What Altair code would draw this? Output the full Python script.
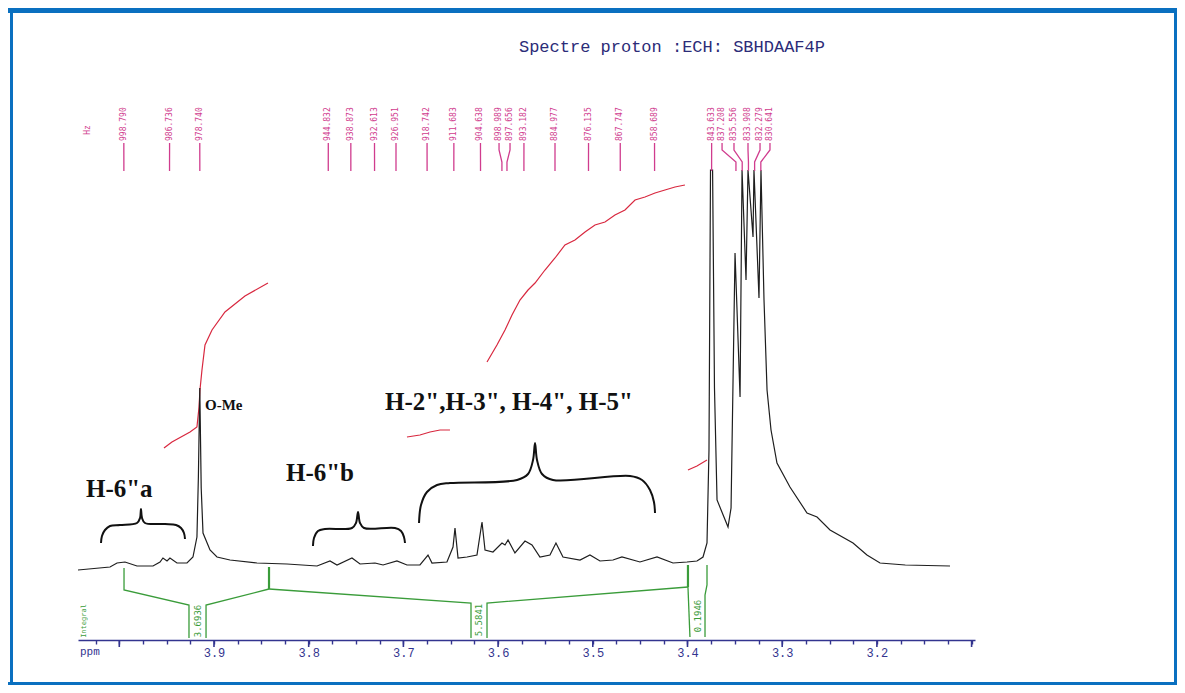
import altair as alt
import pandas as pd

# ---------------- data ----------------
# 1H spectrum trace (ppm, intensity above baseline)
spec_ppm = [4.0436, 4.0098, 4.0024, 3.9940, 3.9813, 3.9644, 3.9570, 3.9539, 3.9496, 3.9465,
            3.9391, 3.9285, 3.9222, 3.9180, 3.9165, 3.9150, 3.9135, 3.9116, 3.9042, 3.8968,
            3.8831, 3.8546, 3.8229, 3.7912, 3.7775, 3.7701, 3.7543, 3.7458, 3.7300, 3.7215,
            3.7068, 3.6962, 3.6825, 3.6740, 3.6698, 3.6540, 3.6476, 3.6455, 3.6423, 3.6328,
            3.6223, 3.6170, 3.6138, 3.6054, 3.5959, 3.5927, 3.5895, 3.5822, 3.5716, 3.5642,
            3.5558, 3.5452, 3.5389, 3.5315, 3.5135, 3.5030, 3.4924, 3.4787, 3.4692, 3.4502,
            3.4322, 3.4153, 3.4005, 3.3900, 3.3836, 3.3794, 3.3773, 3.3757, 3.3735, 3.3715,
            3.3688, 3.3572, 3.3540, 3.3498, 3.3445, 3.3424, 3.3382, 3.3361, 3.3308, 3.3298,
            3.3245, 3.3224, 3.3192, 3.3160, 3.3118, 3.3055, 3.2918, 3.2738, 3.2632, 3.2495,
            3.2252, 3.2105, 3.1967, 3.1700, 3.1228]
spec_int = [-2, 1, 5, 6, 2, 2, 6, 10, 7, 10,
            5, 5, 11, 31, 90, 180, 80, 35, 18, 11,
            8, 5, 4, 2, 7, 3, 10, 4, 5, 3,
            7, 3, 3, 13, 5, 6, 21, 40, 10, 11,
            13, 46, 18, 16, 25, 23, 28, 15, 27, 23,
            11, 13, 25, 11, 8, 13, 7, 8, 11, 6,
            11, 5, 6, 7, 11, 25, 118, 398, 398, 180,
            68, 41, 60, 315, 171, 398, 288, 398, 331, 398,
            270, 398, 268, 178, 138, 105, 81, 55, 51, 38,
            25, 13, 5, 3, 2]

# peak picking (Hz, 250 MHz) and where each label is printed (ppm)
peak_hz = [998.790, 986.736, 978.740, 944.832, 938.873, 932.613, 926.951, 918.742,
           911.683, 904.638, 898.989, 897.656, 893.182, 884.977, 876.135, 867.747,
           858.689, 843.633, 837.208, 835.556, 833.908, 832.279, 830.641]
label_ppm = [3.9952, 3.9469, 3.9150, 3.7793, 3.7555, 3.7305, 3.7078, 3.6750,
             3.6467, 3.6186, 3.5990, 3.5874, 3.5727, 3.5399, 3.5045, 3.4710,
             3.4348, 3.3745, 3.3635, 3.3509, 3.3361, 3.3234, 3.3129]
SF_MHZ = 250.0

# integral curves (red)
int_curve_grp = ["a"] * 12 + ["b"] * 5 + ["c"] * 22 + ["d"] * 3
int_curve_ppm = [3.9528, 3.9444, 3.9253, 3.9180, 3.9158, 3.9148, 3.9127, 3.9095, 3.9021, 3.8884, 3.8673, 3.8430,
                 3.6962, 3.6825, 3.6719, 3.6613, 3.6508,
                 3.6117, 3.6012, 3.5927, 3.5853, 3.5769, 3.5684, 3.5610, 3.5505, 3.5399, 3.5294, 3.5188,
                 3.5082, 3.4977, 3.4871, 3.4766, 3.4660, 3.4554, 3.4449, 3.4343, 3.4238, 3.4132, 3.4027,
                 3.3995, 3.3900, 3.3794]
int_curve_val = [120, 126, 136, 141, 161, 178, 198, 223, 238, 256, 272, 285,
                 131, 133, 136, 138, 138,
                 206, 223, 238, 253, 268, 278, 285, 298, 310, 323, 328,
                 336, 343, 346, 353, 358, 368, 371, 375, 378, 381, 383,
                 98, 102, 108]

# integral regions (green brackets) and their values
brk_grp = ["g1"] * 4 + ["g2"] * 3 + ["g4"] * 3 + ["g5"] * 3 + ["g7"] * 2 + ["g8"] * 4
brk_ppm = [3.9950, 3.9950, 3.9264, 3.9264,
           3.9084, 3.9084, 3.8419,
           3.8419, 3.6286, 3.6286,
           3.6117, 3.6117, 3.3995,
           3.3995, 3.3974,
           3.3794, 3.3794, 3.3815, 3.3815]
brk_val = [0, -22, -37, -70,
           -70, -37, -21,
           -21, -35, -70,
           -70, -35, -19,
           -19, -69,
           3, -17, -27, -69]
anchor_ppm = [3.8419, 3.3995]
anchor_lo = [-21, -19]
anchor_hi = [1, 3]
integral_vals = ["3.6936", "5.5841", "0.1946"]
integral_ppm = [3.9169, 3.6202, 3.3889]
integral_pos = [-53, -52, -48]

# curly braces drawn under the assignments
brace_grp = ["b1"] * 15 + ["b2"] * 13 + ["b3"] * 17
brace_ppm = [4.0193, 4.0183, 4.0151, 4.0098, 3.9993, 3.9813, 3.9781, 3.9771, 3.9760, 3.9729, 3.9517, 3.9401, 3.9348, 3.9317, 3.9306,
             3.7955, 3.7944, 3.7902, 3.7828, 3.7543, 3.7501, 3.7479, 3.7458, 3.7416, 3.7089, 3.7025, 3.6994, 3.6983,
             3.6835, 3.6814, 3.6751, 3.6645, 3.6508, 3.5800, 3.5684, 3.5631, 3.5610, 3.5589, 3.5536, 3.5420, 3.4607, 3.4480, 3.4396, 3.4354, 3.4343]
brace_val = [25, 32, 38, 42, 43, 45, 50, 59, 50, 45, 44, 43, 40, 35, 29,
             22, 30, 37, 39, 40, 45, 56, 45, 40, 40, 37, 31, 25,
             45, 63, 76, 83, 85, 88, 94, 108, 125, 108, 94, 88, 92, 88, 78, 66, 55]

# assignment labels
assign_text = ['H-6"a', 'H-6"b', 'H-2",H-3", H-4", H-5"']
assign_ppm = [4.0352, 3.8240, 3.7194]
assign_pos = [71, 87, 158]

# axis ticks
tick_vals = [4.025, 4.0, 3.975, 3.95, 3.925, 3.9, 3.875, 3.85, 3.825, 3.8, 3.775, 3.75, 3.725,
             3.7, 3.675, 3.65, 3.625, 3.6, 3.575, 3.55, 3.525, 3.5, 3.475, 3.45, 3.425, 3.4,
             3.375, 3.35, 3.325, 3.3, 3.275, 3.25, 3.225, 3.2, 3.175, 3.15, 3.125, 3.1]
major_ticks = [4.0, 3.9, 3.8, 3.7, 3.6, 3.5, 3.4, 3.3, 3.2, 3.1]
tick_labels = ["3.9", "3.8", "3.7", "3.6", "3.5", "3.4", "3.3", "3.2"]

# ---------------- styling ----------------
NAVY = "#33348f"
MAG = "#d03c8e"
GREEN = "#3a9c3a"
RED = "#d8283f"
BLUE = "#0a70c0"
W, H = 1169, 677

label_list = ",".join("'%s'" % t for t in tick_labels)
xaxis = alt.Axis(values=tick_vals, tickSize=4, tickWidth=1.4, tickColor=NAVY,
                 domainColor=NAVY, domainWidth=1.4, labelColor=NAVY,
                 labelFont="Liberation Mono", labelFontSize=12, labelPadding=3,
                 labelOverlap=False, labelFlush=False, grid=False, title=None, offset=-45,
                 labelExpr="indexof([" + label_list + "], format(datum.value, '.3~f')) >= 0 ? format(datum.value, '.1f') : ''")
xscale = alt.Scale(domain=[3.0964, 4.0436], range=[967, 70], nice=False, zero=False)
yscale = alt.Scale(domain=[0, 400], range=[560, 160], nice=False, zero=False)


def X():
    return alt.X("ppm:Q", scale=xscale, axis=xaxis)


def Y():
    return alt.Y("I:Q", scale=yscale, axis=None)


layers = []

# frame
one = pd.DataFrame({"z": [0]})
for (x0, x1, y0, y1) in [(0, W, 0, 5), (2, 5, 0, H), (W - 3, W, 0, H), (0, W, H - 3, H)]:
    layers.append(alt.Chart(one).mark_rect(color=BLUE).encode(
        x=alt.value(x0), x2=alt.value(x1), y=alt.value(y0), y2=alt.value(y1)))

# green integral brackets
brk = pd.DataFrame({"ppm": brk_ppm, "I": brk_val, "g": brk_grp, "k": list(range(len(brk_ppm)))})
layers.append(alt.Chart(brk).mark_line(color=GREEN, strokeWidth=1.3).encode(
    x=X(), y=Y(), detail="g:N", order="k:Q"))
anc = pd.DataFrame({"ppm": anchor_ppm, "I": anchor_lo, "I2": anchor_hi})
layers.append(alt.Chart(anc).mark_rule(color=GREEN, strokeWidth=2.2).encode(
    x=X(), y=Y(), y2="I2:Q"))
ivals = pd.DataFrame({"ppm": integral_ppm, "I": integral_pos, "t": integral_vals})
layers.append(alt.Chart(ivals).mark_text(color=GREEN, angle=270, font="DejaVu Sans Mono",
                                         fontSize=9, align="center", baseline="middle").encode(
    x=X(), y=Y(), text="t:N"))
layers.append(alt.Chart(pd.DataFrame({"ppm": [4.0373], "I": [-53], "t": ["Integral"]})).mark_text(
    color=GREEN, angle=270, font="DejaVu Sans Mono", fontSize=7, align="center", baseline="middle").encode(
    x=X(), y=Y(), text="t:N"))

# red integral curves
ic = pd.DataFrame({"ppm": int_curve_ppm, "I": int_curve_val, "g": int_curve_grp,
                   "k": list(range(len(int_curve_ppm)))})
layers.append(alt.Chart(ic).mark_line(color=RED, strokeWidth=1.2).encode(
    x=X(), y=Y(), detail="g:N", order="k:Q"))

# spectrum
sp = pd.DataFrame({"ppm": spec_ppm, "I": spec_int, "k": list(range(len(spec_ppm)))})
layers.append(alt.Chart(sp).mark_line(color="#1e1e1e", strokeWidth=1.2).encode(
    x=X(), y=Y(), order="k:Q"))

# peak picking lines and labels
rows = []
for i, (hz, lp) in enumerate(zip(peak_hz, label_ppm)):
    pp = hz / SF_MHZ
    for k, (xv, yv) in enumerate([(lp, 425), (lp, 418), (pp, 406), (pp, 397)]):
        rows.append({"ppm": xv, "I": yv, "g": i, "k": k})
pl = pd.DataFrame(rows)
layers.append(alt.Chart(pl).mark_line(color=MAG, strokeWidth=1.3).encode(
    x=X(), y=Y(), detail="g:N", order="k:Q"))
pt = pd.DataFrame({"ppm": label_ppm, "I": [427] * len(label_ppm),
                   "t": ["%.3f" % h for h in peak_hz]})
layers.append(alt.Chart(pt).mark_text(color=MAG, angle=270, font="DejaVu Sans Mono",
                                      fontSize=8, align="left", baseline="middle").encode(
    x=X(), y=Y(), text="t:N"))
layers.append(alt.Chart(pd.DataFrame({"ppm": [4.0331], "I": [438], "t": ["Hz"]})).mark_text(
    color=MAG, angle=270, font="DejaVu Sans Mono", fontSize=8, align="center", baseline="middle").encode(
    x=X(), y=Y(), text="t:N"))

# braces
br = pd.DataFrame({"ppm": brace_ppm, "I": brace_val, "g": brace_grp, "k": list(range(len(brace_ppm)))})
layers.append(alt.Chart(br).mark_line(color="#111111", strokeWidth=2, interpolate="catmull-rom").encode(
    x=X(), y=Y(), detail="g:N", order="k:Q"))

# assignment labels
asg = pd.DataFrame({"ppm": assign_ppm, "I": assign_pos, "t": assign_text})
layers.append(alt.Chart(asg).mark_text(color="#111111", font="Liberation Serif", fontWeight="bold",
                                       fontSize=25, align="left", baseline="alphabetic").encode(
    x=X(), y=Y(), text="t:N"))
layers.append(alt.Chart(pd.DataFrame({"ppm": [3.9095], "I": [158], "t": ["O-Me"]})).mark_text(
    color="#111111", font="Liberation Serif", fontWeight="bold", fontSize=15,
    align="left", baseline="alphabetic").encode(x=X(), y=Y(), text="t:N"))

# major ticks (longer)
mt = pd.DataFrame({"ppm": major_ticks, "I": [-72] * len(major_ticks), "I2": [-79] * len(major_ticks)})
layers.append(alt.Chart(mt).mark_rule(color=NAVY, strokeWidth=1.6).encode(
    x=X(), y=Y(), y2="I2:Q"))
layers.append(alt.Chart(pd.DataFrame({"ppm": [4.0415], "I": [-84], "t": ["ppm"]})).mark_text(
    color=NAVY, font="Liberation Mono", fontSize=11, align="left", baseline="middle").encode(
    x=X(), y=Y(), text="t:N"))

# title
layers.append(alt.Chart(pd.DataFrame({"ppm": [3.4164], "I": [521], "t": ["Spectre proton :ECH: SBHDAAF4P"]})).mark_text(
    color="#2c2c78", font="Liberation Mono", fontSize=17, align="center", baseline="middle").encode(
    x=X(), y=Y(), text="t:N"))

chart = alt.layer(*layers).properties(
    width=W, height=H, autosize=alt.AutoSizeParams(type="none"), padding=0, background="white"
).configure_view(stroke=None)

chart.save("out.html", embed_options={"renderer": "svg", "actions": False})
